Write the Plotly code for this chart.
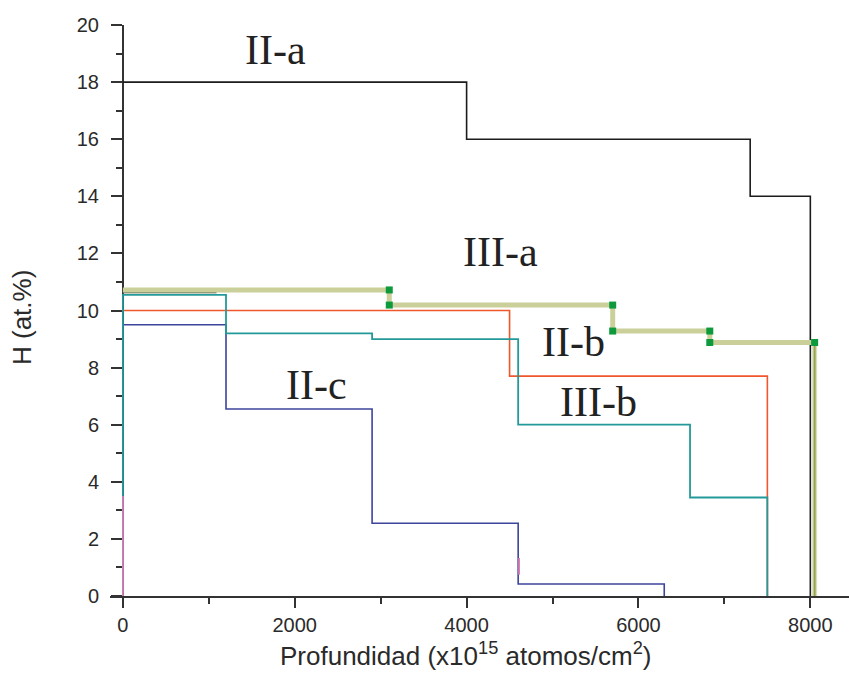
import plotly.graph_objects as go

# Hydrogen depth profiles: layer boundaries (x10^15 atoms/cm^2) and H content (at.%) per layer
IIa_depth = [0, 4000, 7300, 8000]
IIa_H = [18.0, 16.0, 14.0]

IIb_depth = [0, 4500, 7500]
IIb_H = [10.0, 7.7]

IIIb_depth = [0, 1200, 2900, 4600, 6600, 7500]
IIIb_H = [10.55, 9.2, 9.0, 6.0, 3.45]

IIc_depth = [0, 1200, 2900, 4600, 6300]
IIc_H = [9.5, 6.55, 2.55, 0.42]

IIIa_depth = [0, 3100, 5700, 6830, 8050]
IIIa_H = [10.72, 10.19, 9.28, 8.88]

IIIa_fit_depth = [0, 1090]
IIIa_fit_H = [10.62]

pink_x = [0, 0, None, 4610, 4610]
pink_y = [0, 3.5, None, 0.74, 1.33]

x_ticks = [0, 2000, 4000, 6000, 8000]
y_ticks = [0, 2, 4, 6, 8, 10, 12, 14, 16, 18, 20]

labels = ["II-a", "III-a", "II-b", "III-b", "II-c"]
label_x = [1775, 4395, 5243, 5533, 2255]
label_y = [19.12, 12.05, 8.91, 6.81, 7.39]


def step_xy(depth, h, start_zero=False):
    """Step outline of a layered profile, dropping to 0 after the last layer."""
    xs = list(depth)
    ys = list(h) + [0.0]
    if start_zero:
        xs = [depth[0]] + xs
        ys = [0.0] + ys
    return xs, ys


fig = go.Figure()

# II-a
x, y = step_xy(IIa_depth, IIa_H)
fig.add_trace(go.Scatter(x=x, y=y, mode="lines", line_shape="hv",
                         line=dict(color="#1c1c1c", width=1.6), showlegend=False))

# II-b
x, y = step_xy(IIb_depth, IIb_H)
fig.add_trace(go.Scatter(x=x, y=y, mode="lines", line_shape="hv",
                         line=dict(color="#f0582c", width=1.6), showlegend=False))

# II-c
x, y = step_xy(IIc_depth, IIc_H, start_zero=True)
fig.add_trace(go.Scatter(x=x, y=y, mode="lines", line_shape="hv",
                         line=dict(color="#3d449b", width=1.6), showlegend=False))

# III-b
x, y = step_xy(IIIb_depth, IIIb_H, start_zero=True)
fig.add_trace(go.Scatter(x=x, y=y, mode="lines", line_shape="hv",
                         line=dict(color="#24999a", width=1.8), showlegend=False))

# III-a: thick khaki outline without the final drop
x_a = list(IIIa_depth)
y_a = list(IIIa_H) + [IIIa_H[-1]]
fig.add_trace(go.Scatter(x=x_a, y=y_a, mode="lines", line_shape="hv",
                         line=dict(color="#cbd09b", width=5), showlegend=False))

# III-a: final drop to zero
fig.add_trace(go.Scatter(x=[IIIa_depth[-1], IIIa_depth[-1]], y=[IIIa_H[-1], 0],
                         mode="lines", line=dict(color="#dadebd", width=5), showlegend=False))
fig.add_trace(go.Scatter(x=[IIIa_depth[-1], IIIa_depth[-1]], y=[IIIa_H[-1], 0],
                         mode="lines", line=dict(color="#98a448", width=2), showlegend=False))

# III-a: fitted first layer
x, y = IIIa_fit_depth, IIIa_fit_H + IIIa_fit_H
fig.add_trace(go.Scatter(x=x, y=y, mode="lines",
                         line=dict(color="#7f8a66", width=1.6), opacity=0.8, showlegend=False))

# III-a: corner markers at each step
mx, my = [], []
for i in range(1, len(IIIa_depth) - 1):
    mx += [IIIa_depth[i], IIIa_depth[i]]
    my += [IIIa_H[i - 1], IIIa_H[i]]
mx.append(IIIa_depth[-1])
my.append(IIIa_H[-1])
fig.add_trace(go.Scatter(x=mx, y=my, mode="markers",
                         marker=dict(symbol="square", size=7, color="#0c9a3c"),
                         showlegend=False))

# small residual segments
fig.add_trace(go.Scatter(x=pink_x, y=pink_y, mode="lines",
                         line=dict(color="#d67ab0", width=1.8), showlegend=False))

for t, lx, ly in zip(labels, label_x, label_y):
    fig.add_annotation(x=lx, y=ly, text=t, showarrow=False,
                       xanchor="center", yanchor="middle",
                       font=dict(family="Liberation Serif, Times New Roman, serif",
                                 size=42, color="#222222"))

title_font = dict(family="Liberation Sans, Arial, sans-serif", size=26, color="#2a2a2a")
fig.add_annotation(xref="paper", yref="paper", x=(465 - 110) / 739, y=-58 / 571,
                   text="Profundidad (x10<sup>15</sup> atomos/cm<sup>2</sup>)",
                   showarrow=False, xanchor="center", yanchor="middle", font=title_font)
fig.add_annotation(xref="paper", yref="paper", x=(22 - 110) / 739, y=278 / 571,
                   text="H (at.%)", textangle=-90,
                   showarrow=False, xanchor="center", yanchor="middle", font=title_font)

axis_font = dict(family="Liberation Sans, Arial, sans-serif", size=20, color="#2a2a2a")

fig.update_layout(
    width=849, height=674,
    margin=dict(l=110, r=0, t=25, b=78),
    plot_bgcolor="white", paper_bgcolor="white",
    xaxis=dict(
        range=[-150, 8450], tickvals=x_ticks, ticks="outside", ticklen=10,
        tickwidth=1.6, tickcolor="#333", showline=True, linecolor="#333",
        linewidth=2, showgrid=False, zeroline=False, tickfont=axis_font,
        layer="below traces",
        minor=dict(tickvals=[1000, 3000, 5000, 7000], ticks="outside",
                   ticklen=6, tickwidth=1.6, tickcolor="#333"),
    ),
    yaxis=dict(
        range=[0, 20], tickvals=y_ticks, ticks="outside", ticklen=11,
        tickwidth=1.6, tickcolor="#333", showline=True, linecolor="#333",
        linewidth=2, showgrid=False, zeroline=False, tickfont=axis_font,
        anchor="free", position=13 / 739, ticklabelstandoff=8,
        layer="below traces",
        minor=dict(tickvals=[1, 3, 5, 7, 9, 11, 13, 15, 17, 19], ticks="outside",
                   ticklen=6, tickwidth=1.6, tickcolor="#333"),
    ),
)

fig.write_html("out.html")
